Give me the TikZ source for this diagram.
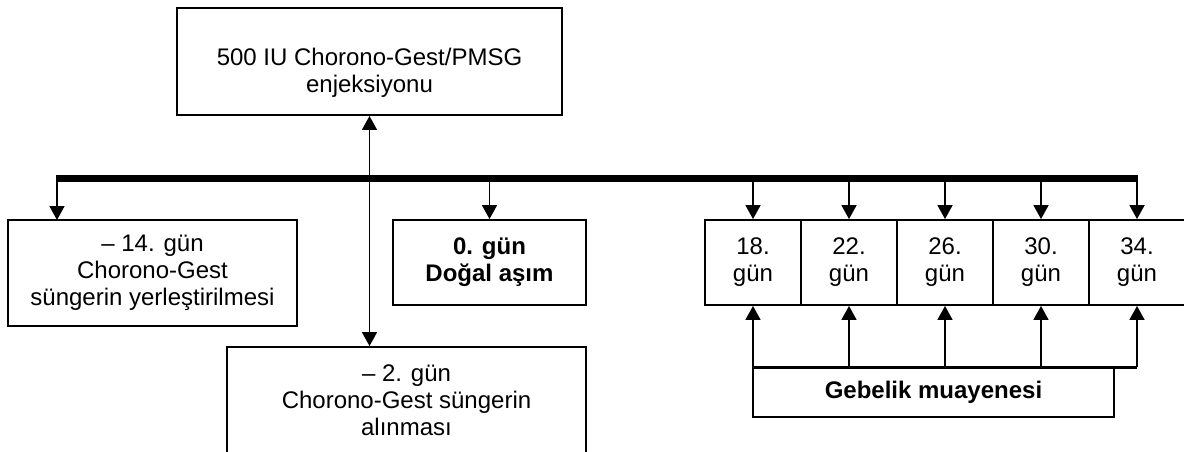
\documentclass[tikz,border=0pt]{standalone}
\usepackage{fontspec}
\setmainfont{Liberation Sans}
\usetikzlibrary{arrows.meta}
\tikzset{
  box/.style={draw, line width=1.9pt, rectangle, inner sep=0pt, align=center, font=\fontsize{24}{27}\selectfont},
  txt/.style={inner sep=0pt, align=center, font=\fontsize{24}{27}\selectfont},
  arr/.style={line width=1.8pt, -{Triangle[width=15pt,length=14pt]}},
  dbl/.style={line width=1.8pt, {Triangle[width=15pt,length=14pt]}-{Triangle[width=15pt,length=14pt]}},
  bar/.style={line width=7pt},
  geb/.style={line width=3pt},
}
\begin{document}
\begin{tikzpicture}[x=1pt,y=-1pt]
\clip (0,0) rectangle (1184,451);
% boxes
\node[box, minimum width=385, minimum height=107] (top) at (369.5,61.5) {};
\node[txt] (toptxt) at (369.5,72.5) {500 IU Chorono-Gest/PMSG\\enjeksiyonu};
\node[box, minimum width=289, minimum height=106] (left) at (152.5,273) {– 14. gün\\Chorono-Gest\\süngerin yerleştirilmesi};
\node[box, minimum width=193, minimum height=85] (mid) at (489.5,262.5) {\bfseries 0. gün\\\bfseries Doğal aşım};
\node[box, minimum width=359, minimum height=106] (bot) at (406.5,400) {– 2. gün\\Chorono-Gest süngerin\\alınması};
\node[box, minimum width=96, minimum height=85] (d18) at (753,262.5) {18.\\gün};
\node[box, minimum width=96, minimum height=85] (d22) at (849,262.5) {22.\\gün};
\node[box, minimum width=96, minimum height=85] (d26) at (945,262.5) {26.\\gün};
\node[box, minimum width=96, minimum height=85] (d30) at (1041,262.5) {30.\\gün};
\node[box, minimum width=96, minimum height=85] (d34) at (1137,262.5) {34.\\gün};
\node[box, minimum width=361, minimum height=49] (gebbox) at (933.5,392.5) {\bfseries Gebelik muayenesi};
% bar
\coordinate (barL) at (56,178);
\coordinate (barR) at (1138,178);
\draw[bar] (barL) -- (barR);
\draw[arr] (57,178) -- (57,220);
\draw[arr] (mid.north |- barL) -- (mid.north);
\foreach \d in {d18,d22,d26,d30,d34}
  \draw[arr] (\d.north |- barL) -- (\d.north);
% double arrow
\draw[dbl] (top.south) -- (top.south |- bot.north);
% gebelik
\draw[geb] (d18.south |- gebbox.north) -- (d34.south |- gebbox.north);
\foreach \d in {d18,d22,d26,d30,d34}
  \draw[arr] (\d.south |- gebbox.north) -- (\d.south);
\end{tikzpicture}
\end{document}
